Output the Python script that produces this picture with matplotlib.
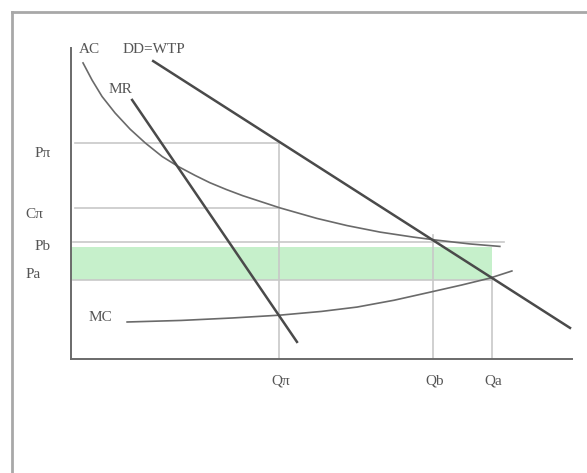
import matplotlib
matplotlib.use("Agg")
from matplotlib import pyplot as plt
from matplotlib.lines import Line2D

# quantities and price levels (Q and P in 0..100 units)
q_pi, q_b, q_a = 41.5, 72.3, 84.0
p_pi, c_pi, p_b, p_a = 69.5, 48.6, 37.6, 25.4

# straight lines: demand (DD=WTP) and marginal revenue
dd_q = [16.4, 99.6]
dd_p = [95.8, 10.0]
mr_q = [12.2, 45.1]
mr_p = [83.3, 5.5]

# average cost curve
ac_q = [2.4, 4.2, 6.2, 8.8, 11.8, 14.8, 18.2, 21.4, 24.8, 27.7, 31.0,
        34.3, 41.7, 49.1, 55.1, 61.7, 68.3, 73.1, 79.6, 85.6]
ac_p = [95.2, 89.7, 84.4, 79.1, 73.9, 69.5, 65.1, 61.9, 59.0, 56.7, 54.5,
        52.5, 48.6, 45.2, 42.9, 40.8, 39.2, 38.2, 37.0, 36.2]

# marginal cost curve
mc_q = [11.2, 22.0, 32.3, 41.7, 50.0, 57.1, 64.5, 71.7, 78.0, 83.6, 88.0]
mc_p = [11.9, 12.4, 13.2, 14.1, 15.3, 16.7, 18.9, 21.5, 23.8, 26.0, 28.3]

plt.rcParams['font.family'] = ['Liberation Serif', 'DejaVu Serif']

fig = plt.figure(figsize=(5.87, 4.73), dpi=100)
ax = fig.add_axes([71/587, (473-359)/473, (572-71)/587, (359-48)/473])
ax.set_xlim(0, 100)
ax.set_ylim(0, 100)

guide = '#c8c8c8'
txt = '#555555'

# shaded band between Pa and Pb
ax.fill_between([0, q_a], p_a, p_b - 1.6, color='#c6f0cb', lw=0, zorder=1)

# guide lines
ax.plot([0.8, q_pi], [p_pi, p_pi], c=guide, lw=1.2, zorder=2)
ax.plot([0.8, q_pi], [c_pi, c_pi], c=guide, lw=1.2, zorder=2)
ax.plot([0.4, 86.5], [p_b, p_b], c=guide, lw=1.2, zorder=2)
ax.plot([0.4, q_a], [p_a, p_a], c=guide, lw=1.2, zorder=2)
ax.plot([q_pi, q_pi], [0, p_pi], c=guide, lw=1.2, zorder=2)
ax.plot([q_b, q_b], [0, 40.0], c=guide, lw=1.2, zorder=2)
ax.plot([q_a, q_a], [0, 26.4], c=guide, lw=1.2, zorder=2)

# curves
ax.plot(dd_q, dd_p, c='#4a4a4a', lw=1.8, zorder=4, clip_on=False)
ax.plot(mr_q, mr_p, c='#4a4a4a', lw=1.8, zorder=4)
ax.plot(ac_q, ac_p, c='#6a6a6a', lw=1.2, zorder=3)
ax.plot(mc_q, mc_p, c='#6a6a6a', lw=1.2, zorder=3)

for side in ['top', 'right']:
    ax.spines[side].set_visible(False)
for side in ['left', 'bottom']:
    ax.spines[side].set_color('#6a6a6a')
    ax.spines[side].set_linewidth(1.4)
ax.set_xticks([])
ax.set_yticks([])

fs = 11
labels = [
    ("AC", 3.6, 99.4), ("DD=WTP", 16.6, 99.4), ("MR", 9.8, 86.5),
    ("P\u03c0", -5.6, 66.2), ("C\u03c0", -7.4, 46.6),
    ("Pb", -5.6, 36.3), ("Pa", -7.6, 27.3), ("MC", 5.8, 13.2),
    ("Q\u03c0", 41.9, -7.1), ("Qb", 72.5, -7.1), ("Qa", 84.2, -7.1),
]
for s, x, y in labels:
    ax.text(x, y, s, ha='center', va='center', fontsize=fs, color=txt, clip_on=False)

# outer frame (top and left edges)
fig.add_artist(Line2D([12/587, 1], [1 - 12/473, 1 - 12/473], color='#a8a8a8', lw=2))
fig.add_artist(Line2D([12/587, 12/587], [0, 1 - 12/473], color='#a8a8a8', lw=2))

fig.savefig("out.png", dpi=100)
